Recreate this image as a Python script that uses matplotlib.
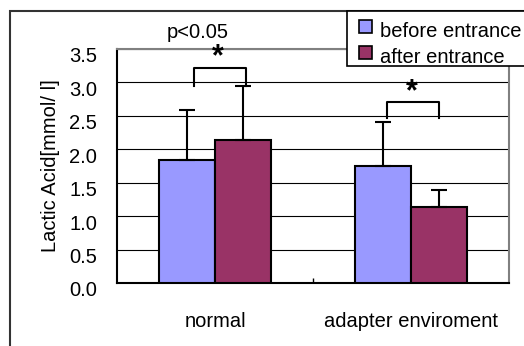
"""
Lactic acid before / after entrance, grouped bars with upper error bars
"""

import numpy as np
import matplotlib
matplotlib.use("Agg")
import matplotlib.pyplot as plt
import matplotlib.transforms as mtransforms
from matplotlib.patches import Rectangle, Patch
from matplotlib.legend_handler import HandlerPatch


# ── DATA ──────────────────────────────────────────────────────────────────────
categories = ["normal", "adapter enviroment"]
series     = ["before entrance", "after entrance"]
before     = [1.84, 1.75]
after      = [2.14, 1.14]
before_err = [0.75, 0.66]
after_err  = [0.81, 0.25]
yticks     = [0.0, 0.5, 1.0, 1.5, 2.0, 2.5, 3.0, 3.5]


# ── STYLE ─────────────────────────────────────────────────────────────────────
plt.rcParams["font.family"] = ["Liberation Sans", "DejaVu Sans"]
FS      = 14.5
C_BEF   = "#9999FF"
C_AFT   = "#993366"
W       = 0.286
PX      = 0.72  # points per pixel at dpi 100

fig = plt.figure(figsize=(5.24, 3.46), dpi=100)
W_PX, H_PX = 524, 346
ax = fig.add_axes([117 / W_PX, 1 - 283 / H_PX, (509 - 117) / W_PX, (283 - 49) / H_PX])

# outer chart frame (runs off the right and bottom edges)
fig.patches.append(Rectangle((10 / W_PX, -0.1), 1.2, 1 - 11 / H_PX + 0.1,
                             transform=fig.transFigure, fill=False,
                             edgecolor="#333333", lw=1.5, zorder=0))


# ── BARS ──────────────────────────────────────────────────────────────────────
x = np.arange(len(categories))
ax.bar(x - W / 2, before, W, color=C_BEF, edgecolor="black", lw=1.5, zorder=3)
ax.bar(x + W / 2, after,  W, color=C_AFT, edgecolor="black", lw=1.5, zorder=3)

for xs, ys, es in [(x - W / 2, before, before_err), (x + W / 2, after, after_err)]:
    ax.errorbar(xs, ys, yerr=[np.zeros(len(es)), es], fmt="none", ecolor="black",
                elinewidth=1.5, capsize=8 * PX, capthick=1.5, zorder=4)


# ── SIGNIFICANCE ──────────────────────────────────────────────────────────────
brackets = [(-0.107, 0.158, 2.95, 3.21), (0.878, 1.143, 2.47, 2.71)]
for x0, x1, y0, y1 in brackets:
    ax.plot([x0, x0, x1, x1], [y0, y1, y1, y0], color="black", lw=1.5,
            zorder=5, clip_on=False)

ax.text(0.015, 3.26, "*", ha="center", va="baseline", fontsize=22,
        fontweight="bold", clip_on=False, zorder=6)
ax.text(1.005, 2.73, "*", ha="center", va="baseline", fontsize=22,
        fontweight="bold", zorder=6)
ax.text(-0.089, 3.74, "p<0.05", ha="center", va="center", fontsize=FS, clip_on=False)


# ── AXES ──────────────────────────────────────────────────────────────────────
ax.set_xlim(-0.5, 1.5)
ax.set_ylim(0, 3.5)
ax.set_yticks(yticks)
ax.set_yticklabels([f"{t:.1f}" for t in yticks], fontsize=FS)
ax.set_xticks(x)
ax.set_xticklabels(categories, fontsize=FS)
ax.set_xticks([0.5], minor=True)
ax.tick_params(axis="x", which="major", length=0, pad=21)
ax.tick_params(axis="x", which="minor", direction="in", length=5 * PX, width=1)
ax.tick_params(axis="y", length=0, pad=20 * PX)

shift = mtransforms.ScaledTranslation(0, -0.06, fig.dpi_scale_trans)
for lab in ax.get_yticklabels():
    lab.set_transform(lab.get_transform() + shift)

ax.grid(axis="y", color="black", lw=0.8, zorder=1)
ax.set_axisbelow(True)
for side in ["left", "bottom"]:
    ax.spines[side].set_color("black")
    ax.spines[side].set_linewidth(1.5)
for side in ["top", "right"]:
    ax.spines[side].set_color("#808080")
    ax.spines[side].set_linewidth(1.5)

ax.set_ylabel("Lactic Acid[mmol/ l]", fontsize=FS)
ax.yaxis.set_label_coords(-0.145, 0.5)


# ── LEGEND ────────────────────────────────────────────────────────────────────
def raised_square(legend, orig_handle, xdescent, ydescent, width, height, fontsize):
    # square sits a little higher than the text centre, as in the original
    return Rectangle((-xdescent, -ydescent + 0.3 * height), width, width)


handles = [Patch(facecolor=C_BEF, edgecolor="black", lw=1.2),
           Patch(facecolor=C_AFT, edgecolor="black", lw=1.2)]
leg = fig.legend(handles, series, loc="upper left",
                 bbox_to_anchor=(359 / W_PX, 1 - 22 / H_PX),
                 fontsize=FS, frameon=False,
                 handlelength=0.65, handleheight=0.65,
                 handletextpad=0.4, borderpad=0, labelspacing=0.36,
                 borderaxespad=0,
                 handler_map={Patch: HandlerPatch(patch_func=raised_square)})

# legend box, drawn separately so it can run off the right edge
fig.patches.append(Rectangle((347 / W_PX, 1 - 66 / H_PX), 0.5, 55 / H_PX,
                             transform=fig.transFigure, facecolor="white",
                             edgecolor="black", lw=1.2, zorder=4))
leg.set_zorder(5)

plt.savefig("out.png", dpi=100)
